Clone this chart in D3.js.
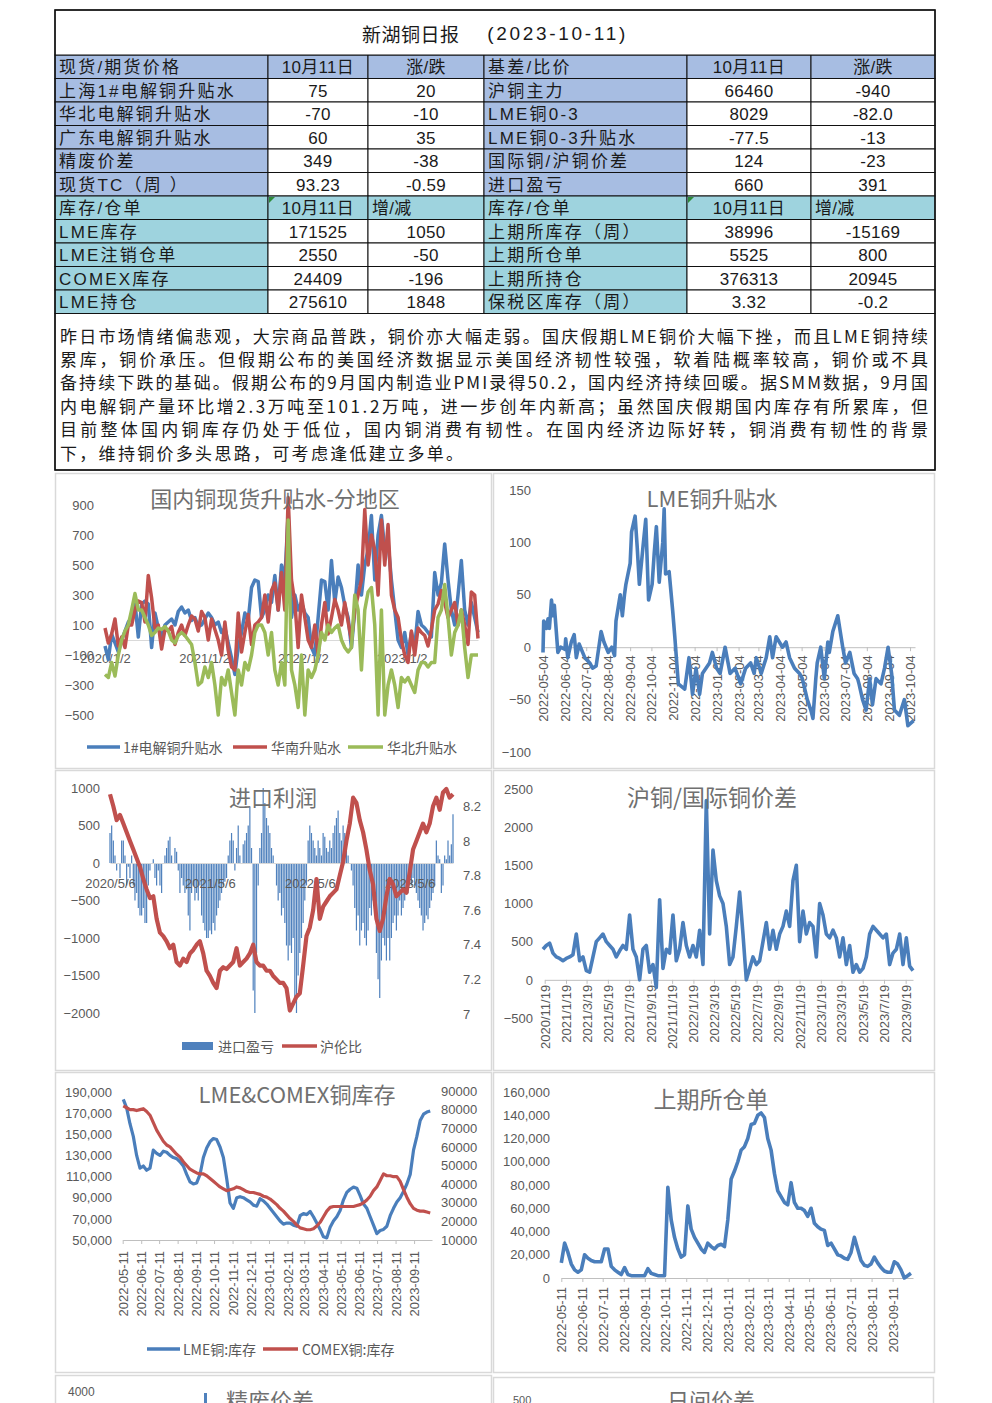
<!DOCTYPE html>
<html><head><meta charset="utf-8">
<script src="https://cdn.jsdelivr.net/npm/d3@7"></script>
<style>body{margin:0;background:#fff}svg{display:block}</style>
</head><body><script>
// ================= DATA =================
const reportTitleName = "新湖铜日报";
const reportTitleDate = "(2023-10-11)";
const priceHeader = ["现货/期货价格","10月11日","涨/跌","基差/比价","10月11日","涨/跌"];
const priceLabelsL = ["上海1#电解铜升贴水","华北电解铜升贴水","广东电解铜升贴水","精废价差","现货TC（周 ）"];
const priceValuesL = ["75","-70","60","349","93.23"];
const priceChangesL = ["20","-10","35","-38","-0.59"];
const priceLabelsR = ["沪铜主力","LME铜0-3","LME铜0-3升贴水","国际铜/沪铜价差","进口盈亏"];
const priceValuesR = ["66460","8029","-77.5","124","660"];
const priceChangesR = ["-940","-82.0","-13","-23","391"];
const stockHeader = ["库存/仓单","10月11日","增/减","库存/仓单","10月11日","增/减"];
const stockLabelsL = ["LME库存","LME注销仓单","COMEX库存","LME持仓"];
const stockValuesL = ["171525","2550","24409","275610"];
const stockChangesL = ["1050","-50","-196","1848"];
const stockLabelsR = ["上期所库存（周）","上期所仓单","上期所持仓","保税区库存（周）"];
const stockValuesR = ["38996","5525","376313","3.32"];
const stockChangesR = ["-15169","800","20945","-0.2"];
const commentaryLines = [
 "昨日市场情绪偏悲观，大宗商品普跌，铜价亦大幅走弱。国庆假期LME铜价大幅下挫，而且LME铜持续",
 "累库，铜价承压。但假期公布的美国经济数据显示美国经济韧性较强，软着陆概率较高，铜价或不具",
 "备持续下跌的基础。假期公布的9月国内制造业PMI录得50.2，国内经济持续回暖。据SMM数据，9月国",
 "内电解铜产量环比增2.3万吨至101.2万吨，进一步创年内新高；虽然国庆假期国内库存有所累库，但",
 "目前整体国内铜库存仍处于低位，国内铜消费有韧性。在国内经济边际好转，铜消费有韧性的背景",
 "下，维持铜价多头思路，可考虑逢低建立多单。"
];

// Panel 1: 国内铜现货升贴水-分地区 (sampled evenly 2020-01-02 .. 2023-10-11)
const p1Start = "2020-01-02", p1End = "2023-10-11";
const p1Ticks = ["2020/1/2","2021/1/2","2022/1/2","2023/1/2"];
const p1YTicks = [-500,-300,-100,100,300,500,700,900];
const spotSH = [-40,-130,40,-20,-80,0,60,120,150,250,
 20,240,260,240,-50,180,80,20,100,120,
 140,100,190,220,180,200,130,150,90,100,
 140,180,150,100,120,50,80,-20,-120,-230,
 -50,50,180,130,350,400,390,150,200,300,
 250,430,200,500,400,850,150,300,200,250,
 180,150,-50,-100,150,400,390,200,530,250,
 420,350,230,150,-50,200,500,300,500,600,
 830,400,700,830,600,650,400,200,0,-50,
 50,-100,50,-50,190,100,80,50,20,450,
 300,380,640,400,200,100,300,530,200,100,
 250,150,50];
const spotSouth = [80,-20,40,140,-40,20,-50,100,100,200,
 260,250,120,430,280,80,100,-60,70,60,
 90,-30,50,100,30,100,160,140,60,190,
 150,0,140,70,0,-100,120,-70,-180,-200,
 180,-80,50,170,-30,100,120,150,300,120,
 330,380,200,450,200,950,400,250,-50,300,
 150,0,-50,100,-100,100,250,40,150,270,
 200,100,250,120,0,200,300,400,870,500,
 700,600,300,800,500,770,300,200,150,0,
 -100,-150,60,-100,80,50,30,-40,70,200,
 240,330,250,150,200,250,100,200,100,-30,
 320,300,10];
const spotNorth = [-230,-250,-150,-240,-100,0,60,100,200,310,
 200,200,150,100,30,50,80,70,90,60,
 0,-20,30,50,30,0,-30,-150,-300,-280,
 -180,-250,-150,-300,-500,-250,-300,-200,-350,-500,
 -200,-300,-150,-200,-100,50,100,100,50,-100,
 50,-200,-300,-150,-300,800,-200,-300,-450,-100,
 -500,-200,-250,-200,-100,50,0,100,50,80,
 100,0,-50,-80,-50,300,200,-200,200,320,
 350,100,-500,200,-500,-300,-200,-300,-450,-250,
 -280,-250,-300,-350,-200,-150,-150,-180,-150,-150,
 150,200,370,150,-100,50,100,200,-50,-250,
 -100,-100,-100];

// Panel 2: LME铜升贴水
const lmeTicks = ["2022-05-04","2022-06-04","2022-07-04","2022-08-04","2022-09-04","2022-10-04","2022-11-04","2022-12-04","2023-01-04","2023-02-04","2023-03-04","2023-04-04","2023-05-04","2023-06-04","2023-07-04","2023-08-04","2023-09-04","2023-10-04"];
const lmeYTicks = [-100,-50,0,50,100,150];
const lmeSpread = [
 ["2022-05-04",-5],["2022-05-05",25],["2022-05-09",18],["2022-05-11",27],["2022-05-13",18],["2022-05-16",45],["2022-05-18",30],["2022-05-20",40],["2022-05-25",-5],["2022-05-29",0],
 ["2022-06-04",-2],["2022-06-05",8],["2022-06-08",-10],["2022-06-13",5],["2022-06-17",12],["2022-06-20",-10],["2022-06-24",3],["2022-07-02",-10],["2022-07-09",-15],["2022-07-13",-20],
 ["2022-07-18",-18],["2022-07-25",15],["2022-07-29",5],["2022-08-04",-5],["2022-08-09",0],["2022-08-13",-8],["2022-08-15",25],["2022-08-21",50],["2022-08-24",30],["2022-08-27",50],
 ["2022-08-29",60],["2022-09-04",80],["2022-09-06",110],["2022-09-11",125],["2022-09-14",95],["2022-09-17",60],["2022-09-22",95],["2022-09-26",122],["2022-09-30",45],["2022-10-05",60],
 ["2022-10-08",90],["2022-10-11",115],["2022-10-15",62],["2022-10-20",100],["2022-10-22",132],["2022-10-24",70],["2022-10-29",72],["2022-11-03",35],["2022-11-06",10],["2022-11-11",-35],
 ["2022-11-20",-40],["2022-11-26",-10],["2022-12-01",-45],["2022-12-06",-20],["2022-12-11",-45],["2022-12-15",-25],["2022-12-25",-15],["2022-12-29",-5],["2023-01-04",-20],["2023-01-09",-25],
 ["2023-01-16",0],["2023-01-23",-25],["2023-01-30",-20],["2023-02-07",-35],["2023-02-14",-20],["2023-02-21",-15],["2023-02-26",-25],["2023-03-01",-10],["2023-03-08",-25],["2023-03-15",-10],
 ["2023-03-20",10],["2023-03-24",-10],["2023-03-29",10],["2023-04-07",0],["2023-04-12",5],["2023-04-17",-10],["2023-04-24",-20],["2023-05-01",-25],["2023-05-05",-30],["2023-05-12",-50],
 ["2023-05-17",-60],["2023-05-20",-68],["2023-05-24",-30],["2023-05-26",-15],["2023-05-31",0],["2023-06-05",-30],["2023-06-10",5],["2023-06-12",-5],["2023-06-17",15],["2023-06-24",30],
 ["2023-07-01",0],["2023-07-05",-15],["2023-07-11",-5],["2023-07-17",-25],["2023-07-22",-30],["2023-07-24",-35],["2023-07-29",-50],["2023-08-03",-60],["2023-08-08",-30],["2023-08-12",-55],
 ["2023-08-17",-30],["2023-08-24",-35],["2023-08-29",-20],["2023-09-03",0],["2023-09-08",-25],["2023-09-12",-60],["2023-09-19",-65],["2023-09-26",-50],["2023-10-01",-75],["2023-10-09",-70]
];

// Panel 3: 进口利润 (sampled evenly 2020-05-06 .. 2023-10-11)
const p3Start = "2020-05-06", p3End = "2023-10-11";
const p3Ticks = ["2020/5/6","2021/5/6","2022/5/6","2023/5/6"];
const p3YTicksL = [-2000,-1500,-1000,-500,0,500,1000];
const p3YTicksR = [7,7.2,7.4,7.6,7.8,8,8.2];
const importProfit = [400,500,300,100,-100,0,-200,300,300,100,
 -300,-50,-200,100,-300,-500,-400,-600,-700,-700,
 -600,-800,-800,-300,-100,0,50,-200,-300,-100,
 -300,-400,0,100,200,300,350,100,0,200,
 150,-100,-400,-200,-300,-400,-350,-700,-900,-400,
 -300,-500,-400,-500,-300,-700,-800,-900,-1000,-1000,
 -900,-950,-800,-900,-700,-600,-500,-400,-300,-250,
 -200,100,300,400,300,-100,200,500,100,0,
 250,300,400,500,750,200,-1700,-2000,-1200,-300,
 200,400,1000,800,600,500,400,200,100,0,
 -300,-500,-400,-700,-600,-800,-1100,-1300,-1100,-1200,
 -1000,-1800,-2000,-1500,-1200,-1000,-800,-500,-300,300,
 500,400,300,200,100,300,200,100,400,350,
 200,150,300,200,400,500,600,700,400,300,
 500,400,200,100,0,-100,-300,-600,-900,-700,
 -1100,-900,-800,-1000,-1100,-900,-600,-700,-500,-600,
 -1200,-1550,-1800,-1300,-1000,-1100,-1300,-1000,-1300,-1000,
 -800,-700,-900,-700,-500,-700,-600,-500,-400,-400,
 -300,-300,-200,-300,-400,-500,-600,-700,-900,-800,
 -700,-750,-600,-500,-400,-300,300,100,50,-400,
 -300,100,50,300,100,250,650];
const shLmeRatio = [8.27,8.2,8.12,8.15,8.1,8.05,8.0,7.95,7.9,7.85,
 7.78,7.72,7.67,7.68,7.55,7.47,7.45,7.42,7.38,7.4,
 7.3,7.28,7.32,7.3,7.35,7.37,7.4,7.42,7.35,7.25,
 7.22,7.18,7.15,7.25,7.27,7.26,7.28,7.3,7.38,7.28,
 7.3,7.32,7.35,7.4,7.3,7.28,7.28,7.25,7.25,7.22,
 7.2,7.18,7.18,7.15,7.02,7.06,7.1,7.12,7.28,7.45,
 7.5,7.6,7.78,7.55,7.62,7.65,7.68,7.7,7.72,7.8,
 7.88,8.0,8.1,8.25,8.22,8.12,8.05,7.95,7.83,7.75,
 7.55,7.48,7.55,7.68,7.78,7.75,7.68,7.7,7.72,7.7,
 7.82,7.95,8.0,8.05,8.1,8.05,8.1,8.2,8.25,8.18,
 8.28,8.3,8.25,8.27];

// Panel 4: 沪铜/国际铜价差 (sampled evenly 2020-11-14 .. 2023-10-10)
const p4Start = "2020-11-14", p4End = "2023-10-10";
const p4Ticks = ["2020/11/19","2021/1/19","2021/3/19","2021/5/19","2021/7/19","2021/9/19","2021/11/19","2022/1/19","2022/3/19","2022/5/19","2022/7/19","2022/9/19","2022/11/19","2023/1/19","2023/3/19","2023/5/19","2023/7/19","2023/9/19"];
const p4YTicks = [-500,0,500,1000,1500,2000,2500];
const priceGap = [400,450,480,350,300,280,250,280,300,330,
 600,250,300,120,100,300,500,550,600,500,
 450,400,300,380,450,400,850,400,300,0,
 400,450,100,200,-100,1050,150,400,350,850,
 250,400,750,450,300,450,300,650,200,2350,
 600,1700,1300,1100,1000,700,200,300,700,1150,
 600,0,150,300,200,250,500,750,400,650,
 400,600,700,900,700,1300,1500,500,900,600,
 750,700,300,1000,850,600,550,650,550,300,
 550,200,450,100,200,100,150,300,600,700,
 650,600,550,600,200,350,400,600,200,550,
 180,120];

// Panel 5: LME & COMEX 铜库存 (sampled evenly 2022-05-12 .. 2023-10-08)
const p5Start = "2022-05-12", p5End = "2023-10-08";
const monthTicks = ["2022-05-11","2022-06-11","2022-07-11","2022-08-11","2022-09-11","2022-10-11","2022-11-11","2022-12-11","2023-01-11","2023-02-11","2023-03-11","2023-04-11","2023-05-11","2023-06-11","2023-07-11","2023-08-11","2023-09-11"];
const p5YTicksL = [50000,70000,90000,110000,130000,150000,170000,190000];
const p5YTicksR = [10000,20000,30000,40000,50000,60000,70000,80000,90000];
const lmeStock = [183000,175000,160000,148000,130000,118000,120000,116000,118000,135000,
 132000,130000,134000,133000,130000,128000,127000,124000,120000,112000,
 105000,103000,104000,112000,128000,137000,143000,146000,145000,138000,
 128000,108000,85000,80000,90000,91000,90000,88000,86000,83000,
 82000,89000,87000,84000,80000,76000,72000,68000,65000,66000,
 66000,64000,63000,73000,75000,74000,77000,72000,66000,60000,
 53000,52000,62000,68000,72000,78000,88000,95000,98000,100000,
 99000,92000,84000,80000,72000,64000,56000,59000,60000,63000,
 73000,80000,86000,90000,96000,103000,112000,135000,148000,163000,
 169000,171000,172000];
const comexStock = [82000,81000,80000,80000,79500,80000,80500,79000,77000,73000,
 69000,66000,63000,61000,60000,58000,56000,54500,52000,50000,
 48000,47000,46000,45500,45500,44500,43000,41500,40000,38500,
 37500,36500,37000,37500,38500,38000,37000,36000,35500,35500,
 35000,34500,33500,33000,32000,30500,29000,27000,25500,23500,
 21500,20000,18000,16500,16000,15500,15500,16000,17500,19500,
 22500,25500,27500,28000,28000,28000,28000,28000,28000,28000,
 28500,29000,30000,31500,33500,36500,38500,42000,45500,44500,
 44500,44000,44000,41500,37000,33000,29500,27000,26000,25500,
 25500,25000,24500];

// Panel 6: 上期所仓单 (sampled evenly 2022-05-11 .. 2023-10-08)
const p6Start = "2022-05-11", p6End = "2023-10-08";
const p6YTicks = [0,20000,40000,60000,80000,100000,120000,140000,160000];
const shfeWarrants = [13000,30000,22000,12000,7000,5000,7000,20000,17000,15000,
 14000,14000,14000,25000,25000,10000,7000,5000,3000,9000,
 3000,2000,2000,2000,2000,2000,8000,4000,3000,2000,
 2000,2000,78000,50000,35000,25000,18000,20000,62000,42000,
 35000,30000,25000,22000,30000,27000,25000,28000,29000,27000,
 50000,85000,92000,100000,110000,113000,120000,132000,133000,140000,
 142000,138000,120000,110000,90000,75000,70000,65000,63000,82000,
 65000,60000,60000,58000,53000,60000,47000,44000,42000,41000,
 28000,30000,25000,20000,19000,17000,16000,22000,35000,25000,
 15000,11000,10000,12000,18000,13000,9000,6000,5000,5000,
 14000,12000,7000,0,2000,4000];

// ================= DRAWING =================
const CJK = "'Noto Sans CJK SC',sans-serif";
const NUM = "'Liberation Sans','Noto Sans CJK SC',sans-serif";
const AX = "#595959", GRID = "#d9d9d9";
const C_BLUE = "#4a7ebb", C_RED = "#c0504d", C_GREEN = "#9bbb59";
const parseD = d3.timeParse("%Y-%m-%d");
const parseS = d3.timeParse("%Y/%m/%d");

const svg = d3.select("body").append("svg").attr("width",992).attr("height",1403);

// ---------- Table ----------
const colX = [55,268,368,484,687,811,935];
const rowY0 = 55, rowH = 23.5;
const FILL_P = "#a7bde2", FILL_S = "#9ed3de";
const rows = [];
rows.push({cells: priceHeader, fill: FILL_P, header: true});
priceLabelsL.forEach((l,i)=>rows.push({cells:[l,priceValuesL[i],priceChangesL[i],priceLabelsR[i],priceValuesR[i],priceChangesR[i]], fill: FILL_P}));
rows.push({cells: stockHeader, fill: FILL_S, header: true, stock: true});
stockLabelsL.forEach((l,i)=>rows.push({cells:[l,stockValuesL[i],stockChangesL[i],stockLabelsR[i],stockValuesR[i],stockChangesR[i]], fill: FILL_S}));

const tg = svg.append("g");
tg.append("rect").attr("x",55).attr("y",10).attr("width",880).attr("height",460).attr("fill","#fff");
rows.forEach((r,ri)=>{
  const y = rowY0 + ri*rowH;
  r.cells.forEach((c,ci)=>{
    const x0 = colX[ci], x1 = colX[ci+1];
    const filled = r.header || ci===0 || ci===3;
    tg.append("rect").attr("x",x0).attr("y",y).attr("width",x1-x0).attr("height",rowH)
      .attr("fill", filled ? r.fill : "#fff").attr("stroke","#111").attr("stroke-width",1);
    const leftAlign = ci===0 || ci===3 || (r.stock && (ci===2 || ci===5));
    tg.append("text")
      .attr("x", leftAlign ? x0+4 : (x0+x1)/2)
      .attr("y", y+rowH/2+1)
      .attr("text-anchor", leftAlign ? "start" : "middle")
      .attr("dominant-baseline","central")
      .attr("font-family", NUM).attr("font-size",17)
      .attr("letter-spacing", (ci===0||ci===3) ? 2.2 : 0.3)
      .attr("fill","#1a1a1a").text(c);
  });
  if (r.stock) {
    [1,4].forEach(ci=>{
      tg.append("path").attr("d",`M${colX[ci]+1},${y+1}h6l-6,6z`).attr("fill","#2e8b3a");
    });
  }
});
// title row
tg.append("rect").attr("x",55).attr("y",10).attr("width",880).attr("height",45).attr("fill","#fff").attr("stroke","#111");
tg.append("text").attr("x",362).attr("y",33).attr("dominant-baseline","central")
  .attr("font-family",CJK).attr("font-size",19).attr("letter-spacing",0.5).attr("fill","#1a1a1a").text(reportTitleName);
tg.append("text").attr("x",628).attr("y",33).attr("text-anchor","end").attr("dominant-baseline","central")
  .attr("font-family",NUM).attr("font-size",19).attr("letter-spacing",2.7).attr("fill","#1a1a1a").text(reportTitleDate);
// commentary
tg.append("rect").attr("x",55).attr("y",rowY0+11*rowH).attr("width",880).attr("height",470-(rowY0+11*rowH)).attr("fill","#fff").attr("stroke","#111");
commentaryLines.forEach((line,i)=>{
  const t = tg.append("text").attr("x",60).attr("y",335+i*23.4).attr("dominant-baseline","central")
    .attr("font-family",CJK).attr("font-size",17).attr("fill","#1a1a1a").text(line);
  if (i < commentaryLines.length-1) t.attr("textLength",868).attr("lengthAdjust","spacing");
  else t.attr("letter-spacing",2.3);
});
tg.append("rect").attr("x",55).attr("y",10).attr("width",880).attr("height",460).attr("fill","none").attr("stroke","#111").attr("stroke-width",1.5);

// ---------- helpers ----------
function frame(x,y,w,h){
  svg.append("rect").attr("x",x+0.5).attr("y",y+0.5).attr("width",w).attr("height",h)
    .attr("fill","#fff").attr("stroke",GRID).attr("stroke-width",1.5);
}
function title(text,cx,cy,size){
  svg.append("text").attr("x",cx).attr("y",cy).attr("text-anchor","middle").attr("dominant-baseline","central")
    .attr("font-family",CJK).attr("font-size",size||22).attr("fill","#707070").text(text);
}
function styleAxis(g, size){
  g.select(".domain").remove();
  g.selectAll("text").attr("font-family",NUM).attr("font-size",size||13).attr("fill",AX);
}
function yAxisLeft(scale, ticks, x, fmt){
  const g = svg.append("g").attr("transform",`translate(${x},0)`)
    .call(d3.axisLeft(scale).tickValues(ticks).tickSize(0).tickPadding(0).tickFormat(fmt));
  styleAxis(g);
}
function yAxisRight(scale, ticks, x, fmt){
  const g = svg.append("g").attr("transform",`translate(${x},0)`)
    .call(d3.axisRight(scale).tickValues(ticks).tickSize(0).tickPadding(0).tickFormat(fmt));
  styleAxis(g);
}
function rotatedAxis(scale, tickStrings, parser, y, gap){
  const dates = tickStrings.map(parser);
  const g = svg.append("g").attr("transform",`translate(0,${y})`)
    .call(d3.axisBottom(scale).tickValues(dates).tickSize(4).tickSizeOuter(0).tickFormat((d,i)=>tickStrings[i]));
  g.select(".domain").attr("stroke","#bfbfbf");
  g.selectAll(".tick line").attr("stroke","#bfbfbf");
  g.selectAll("text").attr("transform","rotate(-90)").attr("x",-gap).attr("y",0).attr("dy","0.35em")
    .attr("text-anchor","end").attr("font-family",NUM).attr("font-size",13).attr("fill",AX);
}
function flatAxis(scale, tickStrings, y, labelY){
  const dates = tickStrings.map(parseS);
  const g = svg.append("g").attr("transform",`translate(0,${y})`)
    .call(d3.axisBottom(scale).tickValues(dates).tickSize(0).tickSizeOuter(0).tickFormat((d,i)=>tickStrings[i]));
  g.select(".domain").attr("stroke",GRID);
  g.selectAll("text").attr("y",labelY).attr("dy","0.35em").attr("font-family",NUM).attr("font-size",13).attr("fill",AX);
}
function evenTime(n, s, e){
  return d3.scaleLinear().domain([0,n-1]).range([+parseD(s), +parseD(e)]);
}
function drawLine(values, xs, it, ys, color, w){
  svg.append("path").datum(values).attr("fill","none").attr("stroke",color).attr("stroke-width",w)
    .attr("stroke-linejoin","round")
    .attr("d", d3.line().x((d,i)=>xs(new Date(it(i)))).y(d=>ys(d)));
}
function legendLine(x0,x1,y,color,label,tx){
  svg.append("line").attr("x1",x0).attr("x2",x1).attr("y1",y).attr("y2",y).attr("stroke",color).attr("stroke-width",3.5);
  svg.append("text").attr("x",tx).attr("y",y).attr("dominant-baseline","central").attr("font-family",CJK)
    .attr("font-size",14).attr("fill",AX).text(label);
}

// ---------- Panel frames ----------
frame(55,473,436,295); frame(493,473,441,295);
frame(55,770,436,300); frame(493,770,441,300);
frame(55,1072,436,300); frame(493,1072,441,300);
frame(55,1375,436,40); frame(493,1377,440,40);

// ---------- Panel 1 ----------
{
  const x = d3.scaleTime().domain([parseD(p1Start), parseD(p1End)]).range([105,478]);
  const y = d3.scaleLinear().domain([-500,900]).range([715,505]);
  yAxisLeft(y, p1YTicks, 94, d3.format("d"));
  flatAxis(x, p1Ticks, y(0), 18);
  [[spotSH,C_BLUE],[spotSouth,C_RED],[spotNorth,C_GREEN]].forEach(([v,c])=>{
    drawLine(v, x, evenTime(v.length,p1Start,p1End), y, c, 3.5);
  });
  title("国内铜现货升贴水-分地区", 275, 497);
  legendLine(87,120,747,C_BLUE,"1#电解铜升贴水",123);
  legendLine(233,267,747,C_RED,"华南升贴水",271);
  legendLine(348,383,747,C_GREEN,"华北升贴水",387);
}

// ---------- Panel 2 ----------
{
  const x = d3.scaleTime().domain([parseD("2022-05-04"), parseD("2023-10-11")]).range([543,915]);
  const y = d3.scaleLinear().domain([-100,150]).range([752,490]);
  yAxisLeft(y, lmeYTicks, 531, d3.format("d"));
  rotatedAxis(x, lmeTicks, parseD, y(0), 8);
  svg.append("path").datum(lmeSpread).attr("fill","none").attr("stroke",C_BLUE).attr("stroke-width",3.6)
    .attr("stroke-linejoin","round").attr("d", d3.line().x(d=>x(parseD(d[0]))).y(d=>y(d[1])));
  title("LME铜升贴水", 712, 497);
}

// ---------- Panel 3 ----------
{
  const x = d3.scaleTime().domain([parseD(p3Start), parseD(p3End)]).range([110,453]);
  const yL = d3.scaleLinear().domain([-2000,1000]).range([1013,788]);
  const yR = d3.scaleLinear().domain([7,8.3]).range([1014,789]);
  yAxisLeft(yL, p3YTicksL, 100, d3.format("d"));
  yAxisRight(yR, p3YTicksR, 463, d3.format("~g"));
  const it = evenTime(importProfit.length, p3Start, p3End);
  svg.append("g").selectAll("rect").data(importProfit).join("rect")
    .attr("x",(d,i)=>x(new Date(it(i)))-0.6).attr("width",1.2)
    .attr("y",d=>yL(Math.max(0,d))).attr("height",d=>Math.abs(yL(d)-yL(0)))
    .attr("fill","#4f81bd");
  flatAxis(x, p3Ticks, yL(0), 20);
  drawLine(shLmeRatio, x, evenTime(shLmeRatio.length,p3Start,p3End), yR, C_RED, 4.2);
  title("进口利润", 273, 796);
  svg.append("rect").attr("x",182).attr("y",1042).attr("width",31).attr("height",8).attr("fill","#4f81bd");
  svg.append("text").attr("x",218).attr("y",1046).attr("dominant-baseline","central").attr("font-family",CJK).attr("font-size",14).attr("fill",AX).text("进口盈亏");
  legendLine(282,317,1046,C_RED,"沪伦比",320);
}

// ---------- Panel 4 ----------
{
  const x = d3.scaleTime().domain([parseD("2020-11-19"), parseD("2023-10-10")]).range([544.7,913]);
  const y = d3.scaleLinear().domain([-500,2500]).range([1018,789]);
  yAxisLeft(y, p4YTicks, 533, d3.format("d"));
  rotatedAxis(x, p4Ticks, parseS, y(0), 5);
  drawLine(priceGap, x, evenTime(priceGap.length,p4Start,p4End), y, C_BLUE, 3.6);
  title("沪铜/国际铜价差", 712, 796, 23);
}

// ---------- Panel 5 ----------
{
  const x = d3.scaleTime().domain([parseD("2022-05-11"), parseD("2023-10-11")]).range([122.7,432]);
  const yL = d3.scaleLinear().domain([50000,190000]).range([1240,1092]);
  const yR = d3.scaleLinear().domain([10000,90000]).range([1240,1091]);
  yAxisLeft(yL, p5YTicksL, 112, d3.format(","));
  yAxisRight(yR, p5YTicksR, 441, d3.format("d"));
  rotatedAxis(x, monthTicks, parseD, 1240, 11);
  drawLine(lmeStock, x, evenTime(lmeStock.length,p5Start,p5End), yL, C_BLUE, 3.2);
  drawLine(comexStock, x, evenTime(comexStock.length,p5Start,p5End), yR, C_RED, 3.2);
  title("LME&COMEX铜库存", 297, 1093);
  legendLine(147,180,1349,C_BLUE,"LME铜:库存",183);
  legendLine(263,298,1349,C_RED,"COMEX铜:库存",302);
}

// ---------- Panel 6 ----------
{
  const x = d3.scaleTime().domain([parseD("2022-05-11"), parseD("2023-10-11")]).range([561.3,913]);
  const y = d3.scaleLinear().domain([0,160000]).range([1278,1092]);
  yAxisLeft(y, p6YTicks, 550, d3.format(","));
  rotatedAxis(x, monthTicks, parseD, y(0), 9);
  drawLine(shfeWarrants, x, evenTime(shfeWarrants.length,p6Start,p6End), y, C_BLUE, 3.6);
  title("上期所仓单", 711, 1098, 23);
}

// ---------- bottom partial panels ----------
svg.append("text").attr("x",68).attr("y",1392).attr("dominant-baseline","central").attr("font-family",NUM).attr("font-size",12).attr("fill",AX).text("4000");
svg.append("rect").attr("x",204).attr("y",1393).attr("width",3).attr("height",12).attr("fill","#4f81bd");
title("精废价差", 270, 1399);
svg.append("text").attr("x",513).attr("y",1400).attr("dominant-baseline","central").attr("font-family",NUM).attr("font-size",11).attr("fill",AX).text("500");
title("日间价差", 711, 1399);
</script></body></html>
